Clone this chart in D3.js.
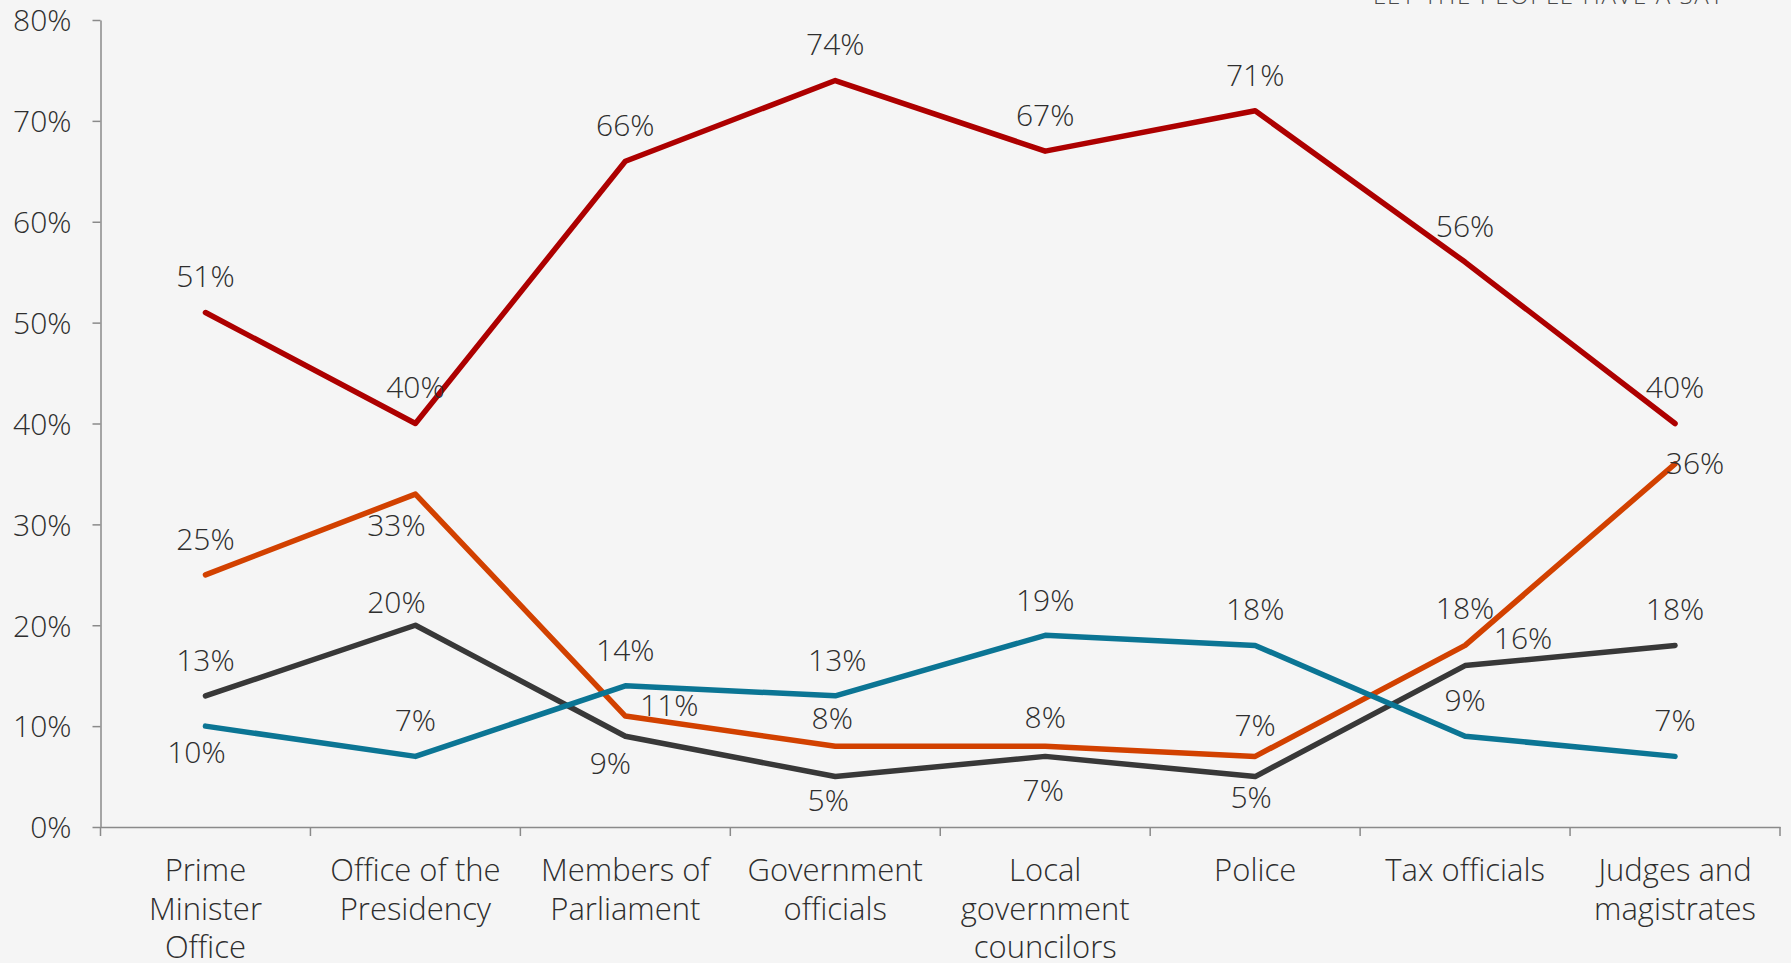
<!DOCTYPE html>
<html>
<head>
<meta charset="utf-8">
<script src="https://cdn.jsdelivr.net/npm/d3@7"></script>
<style>
  html, body { margin: 0; padding: 0; background: #f5f5f5; overflow: hidden; }
  svg { display: block; }
  text { font-family: "Open Sans", Lato, sans-serif; font-weight: 300; fill: #2e2e2e; }
</style>
</head>
<body>
<svg id="chart" width="1791" height="963"></svg>
<script>
// ---- data ----
const categories = ["Prime Minister Office", "Office of the Presidency", "Members of Parliament",
  "Government officials", "Local government councilors", "Police", "Tax officials", "Judges and magistrates"];
const categoryLines = [["Prime", "Minister", "Office"], ["Office of the", "Presidency"], ["Members of", "Parliament"],
  ["Government", "officials"], ["Local", "government", "councilors"], ["Police"], ["Tax officials"], ["Judges and", "magistrates"]];
const seriesRed    = [51, 40, 66, 74, 67, 71, 56, 40];
const seriesOrange = [25, 33, 11, 8, 8, 7, 18, 36];
const seriesDark   = [13, 20, 9, 5, 7, 5, 16, 18];
const seriesTeal   = [10, 7, 14, 13, 19, 18, 9, 7];
const yTickValues  = [0, 10, 20, 30, 40, 50, 60, 70, 80];
const slogan = "LET THE PEOPLE HAVE A SAY";

// ---- label placement (offsets from the point, px) ----
const offRed    = [[0,-36],[0,-36],[0,-36],[0,-36],[0,-36],[0,-36],[0,-36],[0,-36]];
const offOrange = [[0,-36],[-19,31],[44,-11],[-3,-28],[0,-29],[0,-31],[0,-37],[20,-1]];
const offDark   = [[0,-36],[-19,-23],[-15,27],[-7,24],[-2,34],[-4,21],[58,-27],[0,-36]];
const offTeal   = [[-9,26],[0,-36],[0,-36],[2,-36],[0,-35],[0,-36],[0,-36],[0,-36]];

const series = [
  { name: "Series 1", values: seriesRed,    color: "#ad0000", off: offRed },
  { name: "Series 2", values: seriesOrange, color: "#d24100", off: offOrange },
  { name: "Series 3", values: seriesDark,   color: "#383838", off: offDark },
  { name: "Series 4", values: seriesTeal,   color: "#0b7594", off: offTeal }
];

const svg = d3.select("#chart");
const W = 1791, H = 963;
const mLeft = 100.5, mRight = 1780, mTop = 20, mBottom = 827;
const FS = 30;

svg.append("rect").attr("width", W).attr("height", H).attr("fill", "#f5f5f5");

// slogan at top right (cut off)
svg.append("text")
  .attr("x", 1373).attr("y", 4)
  .attr("font-size", 24)
  .attr("textLength", 350).attr("lengthAdjust", "spacing")
  .style("fill", "#4a4a4a")
  .text(slogan);

const x = d3.scaleBand().domain(categories).range([mLeft, mRight]).padding(0);
const y = d3.scaleLinear().domain([0, 80]).range([mBottom, mTop]);

const axisColor = "#8a8a8a";

// y axis
const yAxis = svg.append("g")
  .attr("transform", `translate(${mLeft},0)`)
  .call(d3.axisLeft(y).tickValues(yTickValues).tickFormat(d => d + "%")
    .tickSize(8).tickSizeOuter(0).tickPadding(21));
yAxis.attr("font-family", null).attr("font-size", null);
yAxis.select(".domain").attr("stroke", axisColor).attr("stroke-width", 1.5);
yAxis.selectAll(".tick line").attr("stroke", axisColor).attr("stroke-width", 1.5);
yAxis.selectAll(".tick text").attr("font-size", FS).attr("fill", null).attr("dy", "0.36em");

// x axis
const xAxis = svg.append("g")
  .attr("transform", `translate(0,${mBottom})`)
  .call(d3.axisBottom(x).tickSize(0).tickSizeOuter(0).tickFormat(""));
xAxis.select(".domain").attr("stroke", axisColor).attr("stroke-width", 1.5);
xAxis.selectAll(".tick").remove();
const boundaries = categories.map(c => x(c)).concat([x(categories[categories.length - 1]) + x.bandwidth()]);
xAxis.selectAll("line.bound").data(boundaries).join("line")
  .attr("class", "bound")
  .attr("x1", d => d).attr("x2", d => d)
  .attr("y1", 0).attr("y2", 9)
  .attr("stroke", axisColor).attr("stroke-width", 1.5);

// category labels
const catG = svg.append("g");
categories.forEach((c, i) => {
  const t = catG.append("text")
    .attr("x", x(c) + x.bandwidth() / 2)
    .attr("y", 881)
    .attr("text-anchor", "middle")
    .attr("font-size", 31);
  categoryLines[i].forEach((ln, k) => {
    t.append("tspan")
      .attr("x", x(c) + x.bandwidth() / 2)
      .attr("dy", k === 0 ? 0 : 38.5)
      .text(ln);
  });
});

// lines
const line = d3.line()
  .x((d, i) => x(categories[i]) + x.bandwidth() / 2)
  .y(d => y(d));

svg.append("g").selectAll("path").data(series).join("path")
  .attr("d", s => line(s.values))
  .attr("fill", "none")
  .attr("stroke", s => s.color)
  .attr("stroke-width", 5.5)
  .attr("stroke-linejoin", "round")
  .attr("stroke-linecap", "round");

// data labels
const lblG = svg.append("g");
series.forEach(s => {
  lblG.selectAll(null).data(s.values).join("text")
    .attr("x", (d, i) => x(categories[i]) + x.bandwidth() / 2 + s.off[i][0])
    .attr("y", (d, i) => y(d) + s.off[i][1])
    .attr("dy", "0.36em")
    .attr("text-anchor", "middle")
    .attr("font-size", FS)
    .text(d => d + "%");
});
</script>
</body>
</html>
